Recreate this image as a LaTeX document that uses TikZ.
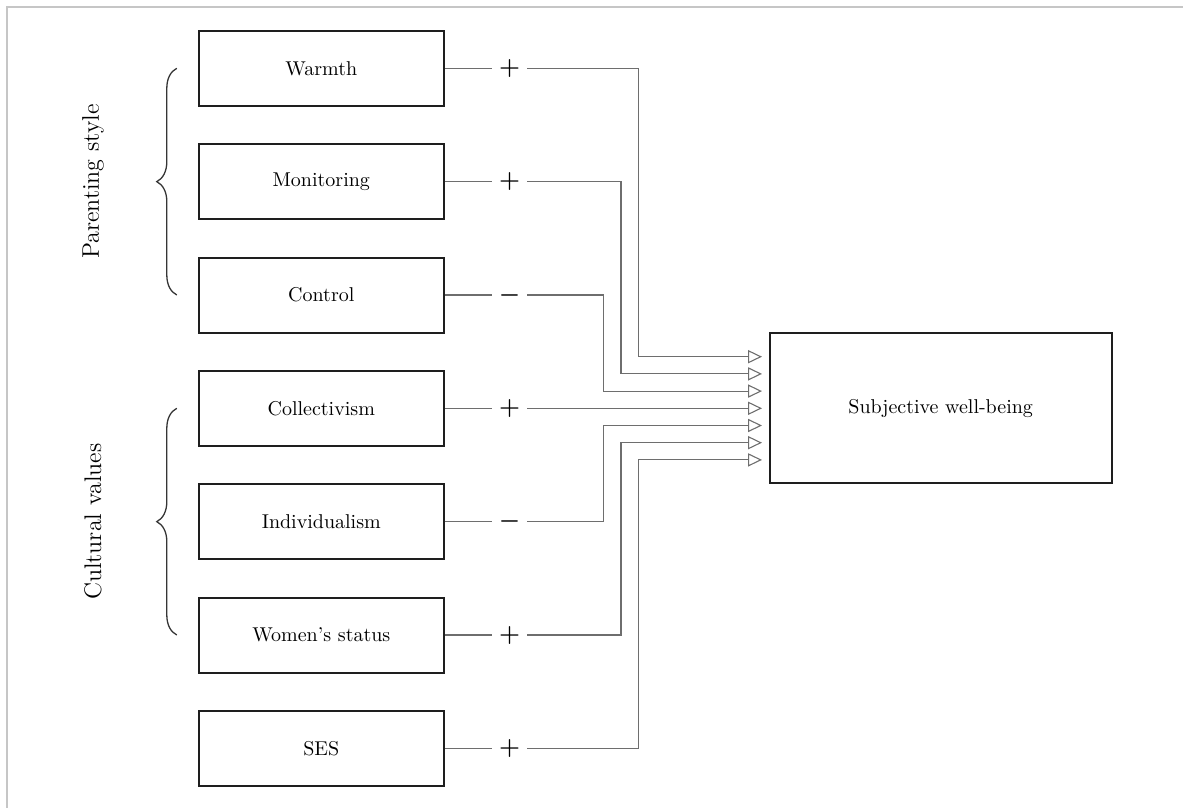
\documentclass[tikz,border=0pt]{standalone}
\usetikzlibrary{arrows.meta, positioning, decorations.pathreplacing}
\definecolor{linkgray}{RGB}{110,110,110}
\definecolor{boxline}{RGB}{30,30,30}

\begin{document}
\begin{tikzpicture}[
  x=0.5pt, y=-0.5pt,
  factor/.style={draw=boxline, line width=1pt, minimum width=122.5pt, minimum height=37.5pt, inner sep=0pt, font=\fontsize{10}{12}\selectfont},
  outcome/.style={factor, minimum width=171pt, minimum height=75pt},
  sign/.style={minimum width=17.5pt, inner sep=0pt, font=\fontsize{11.5}{13}\selectfont\boldmath},
  link/.style={draw=linkgray, line width=0.55pt},
  feed/.style={link, -{Triangle[open, length=7pt, width=6.6pt]}},
  group/.style={draw=boxline!90, line width=0.65pt, decorate, decoration={brace, amplitude=10pt}},
  grouplabel/.style={rotate=90, font=\fontsize{12}{14}\selectfont},
]
  \useasboundingbox (0,0) rectangle (1183,808);
  \draw[gray!45, line width=1pt] (1183,7) -- (7,7) -- (7,808);

  % predictors
  \node[factor] (warmth)  at (321.3, 68.3) {Warmth};
  \node[factor] (monitor) at (321.3,181.7) {Monitoring};
  \node[factor] (control) at (321.3,295.0) {Control};
  \node[factor] (collect) at (321.3,408.3) {Collectivism};
  \node[factor] (indiv)   at (321.3,521.7) {Individualism};
  \node[factor] (women)   at (321.3,635.0) {Women's status};
  \node[factor] (ses)     at (321.3,748.3) {SES};

  \node[outcome] (swb) at (940.7,408.2) {Subjective well-being};

  % groups
  \draw[group] ([xshift=-10.5pt]control.west) -- ([xshift=-10.5pt]warmth.west);
  \draw[group] ([xshift=-10.5pt]women.west) -- ([xshift=-10.5pt]collect.west);
  \node[grouplabel] (parent) at (93,181.7) {Parenting style};
  \node[grouplabel] (culture) at (93,521.7) {Cultural values};

  % signs
  \node[sign, right=23.4pt of warmth]  (sg1) {$+$};
  \node[sign, right=23.4pt of monitor] (sg2) {$+$};
  \node[sign, right=23.4pt of control] (sg3) {$-$};
  \node[sign, right=23.4pt of collect] (sg4) {$+$};
  \node[sign, right=23.4pt of indiv]   (sg5) {$-$};
  \node[sign, right=23.4pt of women]   (sg6) {$+$};
  \node[sign, right=23.4pt of ses]     (sg7) {$+$};

  % bends and inputs
  \coordinate (bend1) at (603.7,0);
  \coordinate (bend2) at (621.0,0);
  \coordinate (bend3) at (638.3,0);
  \foreach \k in {1,...,7}
    \coordinate (in\k) at (762,{339.5+17.2*\k});

  \draw[link] (warmth) -- (sg1);
  \draw[link] (monitor) -- (sg2);
  \draw[link] (control) -- (sg3);
  \draw[link] (collect) -- (sg4);
  \draw[link] (indiv) -- (sg5);
  \draw[link] (women) -- (sg6);
  \draw[link] (ses) -- (sg7);

  \draw[feed] (sg1) -- (sg1 -| bend3) |- (in1);
  \draw[feed] (sg2) -- (sg2 -| bend2) |- (in2);
  \draw[feed] (sg3) -- (sg3 -| bend1) |- (in3);
  \draw[feed] (sg4) -- (in4);
  \draw[feed] (sg5) -- (sg5 -| bend1) |- (in5);
  \draw[feed] (sg6) -- (sg6 -| bend2) |- (in6);
  \draw[feed] (sg7) -- (sg7 -| bend3) |- (in7);
\end{tikzpicture}
\end{document}
